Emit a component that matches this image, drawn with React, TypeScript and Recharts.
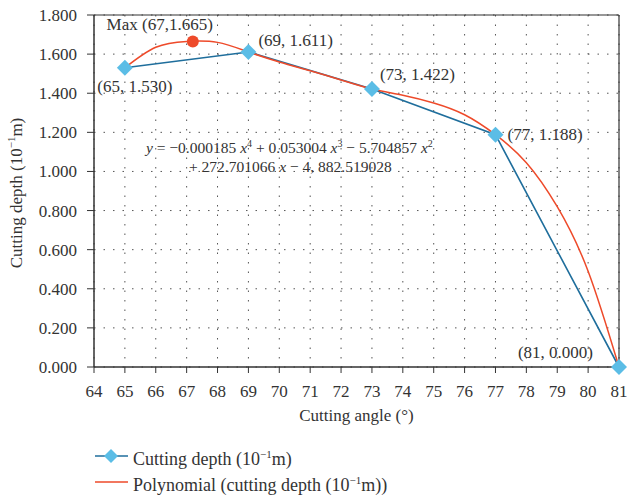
import { ComposedChart, Line, XAxis, YAxis, CartesianGrid, ReferenceDot, ReferenceLine, Legend, LabelList, Customized } from "recharts";

// measured points (cutting angle vs cutting depth)
const angles = [65, 69, 73, 77, 81];
const depths = [1.53, 1.611, 1.422, 1.188, 0.0];
const pointLabels = ["(65, 1.530)", "(69, 1.611)", "(73, 1.422)", "(77, 1.188)", "(81, 0.000)"];

// polynomial trend curve at each degree
const fitAngles = [65, 66, 67, 68, 69, 70, 71, 72, 73, 74, 75, 76, 77, 78, 79, 80, 81];
const fitDepths = [1.53, 1.635, 1.665, 1.66, 1.611, 1.56, 1.515, 1.468, 1.422, 1.39, 1.35, 1.29, 1.188, 1.045, 0.82, 0.49, 0.0];

const maxAngle = 67.2;
const maxDepth = 1.665;
const maxLabel = "Max (67,1.665)";

const xTicks = [64, 65, 66, 67, 68, 69, 70, 71, 72, 73, 74, 75, 76, 77, 78, 79, 80, 81];
const yTicks = [0, 0.2, 0.4, 0.6, 0.8, 1.0, 1.2, 1.4, 1.6, 1.8];

const seriesName = "Cutting depth";
const fitName = "Polynomial (cutting depth";

const measured = angles.map((a, i) => ({ x: a, y: depths[i], label: pointLabels[i] }));
const fitted = fitAngles.map((a, i) => ({ x: a, y: fitDepths[i] }));

const FONT = "'Liberation Serif', 'Times New Roman', serif";
const TEXT = "#333";
const BLUE = "#1f6e9c";
const LIGHT = "#5bbde6";
const RED = "#ee4a2a";

// label offsets per point
const labelPos = [
  { dx: 10, dy: 24, anchor: "middle" },
  { dx: 10, dy: -6, anchor: "start" },
  { dx: 8, dy: -9, anchor: "start" },
  { dx: 12, dy: 5, anchor: "start" },
  { dx: -26, dy: -9, anchor: "end" },
];

const Diamond = (props: any) => {
  const { cx, cy } = props;
  if (cx == null || cy == null) return null;
  const s = 8;
  return <polygon points={`${cx},${cy - s} ${cx + s},${cy} ${cx},${cy + s} ${cx - s},${cy}`} fill={LIGHT} />;
};

const PointLabel = (props: any) => {
  const { x, y, value, index } = props;
  const p = labelPos[index] || labelPos[0];
  return (
    <text x={x + p.dx} y={y + p.dy} textAnchor={p.anchor} fontFamily={FONT} fontSize={17} fill={TEXT}>
      {value}
    </text>
  );
};

const MaxLabel = (props: any) => {
  const vb = props.viewBox || {};
  const cx = vb.x + (vb.width || 0) / 2;
  const cy = vb.y + (vb.height || 0) / 2;
  return (
    <text x={cx + 20} y={cy - 11} textAnchor="end" fontFamily={FONT} fontSize={17} fill={TEXT}>
      {maxLabel}
    </text>
  );
};

const YTitle = (props: any) => {
  const vb = props.viewBox || { x: 0, y: 0, height: 0 };
  const x = 22;
  const y = vb.y + vb.height / 2 + 2;
  return (
    <text x={x} y={y} transform={`rotate(-90 ${x} ${y})`} textAnchor="middle" fontFamily={FONT} fontSize={17} fill={TEXT}>
      {seriesName} (10<tspan fontSize={11} dy={-7}>−1</tspan><tspan dy={7}>m)</tspan>
    </text>
  );
};

const XTitle = (props: any) => {
  const vb = props.viewBox || { x: 0, y: 0, width: 0 };
  return (
    <text x={vb.x + vb.width / 2} y={421} textAnchor="middle" fontFamily={FONT} fontSize={17} fill={TEXT}>
      Cutting angle (°)
    </text>
  );
};

const Equation = () => (
  <g fontFamily={FONT} fontSize={15.5} fill={TEXT}>
    <text x={146} y={153}>
      <tspan fontStyle="italic">y</tspan> = −0.000185 <tspan fontStyle="italic">x</tspan>
      <tspan fontSize={10} dy={-6}>4</tspan>
      <tspan dy={6}> + 0.053004 </tspan><tspan fontStyle="italic">x</tspan>
      <tspan fontSize={10} dy={-6}>3</tspan>
      <tspan dy={6}> − 5.704857 </tspan><tspan fontStyle="italic">x</tspan>
      <tspan fontSize={10} dy={-6}>2</tspan>
    </text>
    <text x={189} y={172}>
      + 272.701066 <tspan fontStyle="italic">x</tspan> − 4, 882.519028
    </text>
  </g>
);

const LegendBox = () => (
  <div style={{ fontFamily: FONT, fontSize: 18, color: TEXT, lineHeight: "26px" }}>
    <div style={{ display: "flex", alignItems: "center", height: 26 }}>
      <svg width={38} height={20} style={{ marginRight: 0 }}>
        <line x1={0} y1={10} x2={33} y2={10} stroke={BLUE} strokeWidth={1.5} />
        <polygon points="16,3 23,10 16,17 9,10" fill={LIGHT} />
      </svg>
      <span>
        {seriesName} (10<sup style={{ fontSize: 11 }}>−1</sup>m)
      </span>
    </div>
    <div style={{ display: "flex", alignItems: "center", height: 26 }}>
      <svg width={38} height={20}>
        <line x1={0} y1={10} x2={33} y2={10} stroke={RED} strokeWidth={1.5} />
      </svg>
      <span>
        {fitName} (10<sup style={{ fontSize: 11 }}>−1</sup>m))
      </span>
    </div>
  </div>
);

export default function App() {
  return (
    <div style={{ position: "absolute", left: 0, top: 0, width: 627, height: 496, background: "#fff" }}>
      <ComposedChart width={627} height={496} margin={{ top: 15, right: 8, left: 0, bottom: 47 }}>
        <CartesianGrid strokeDasharray="1.5 8" stroke="#555" />
        <XAxis
          dataKey="x"
          type="number"
          domain={[64, 81]}
          ticks={xTicks}
          interval={0}
          allowDuplicatedCategory={false}
          height={30}
          tickSize={6}
          tickMargin={12}
          axisLine={{ stroke: "#333", strokeWidth: 1.5 }}
          tickLine={{ stroke: "#333" }}
          tick={{ fill: TEXT, fontSize: 17, fontFamily: FONT }}
          label={<XTitle />}
        />
        <YAxis
          type="number"
          domain={[0, 1.8]}
          ticks={yTicks}
          interval={0}
          width={94}
          tickSize={7}
          tickMargin={10}
          tickFormatter={(v: number) => v.toFixed(3)}
          axisLine={{ stroke: "#333", strokeWidth: 1.5 }}
          tickLine={{ stroke: "#333" }}
          tick={{ fill: TEXT, fontSize: 17, fontFamily: FONT }}
          label={<YTitle />}
        />
        <ReferenceLine y={1.8} stroke="#333" strokeWidth={1.2} />
        <ReferenceLine x={81} stroke="#333" strokeWidth={1.2} />
        <Line
          data={measured}
          dataKey="y"
          name={seriesName}
          stroke={BLUE}
          strokeWidth={1.6}
          type="linear"
          dot={<Diamond />}
          activeDot={false}
          isAnimationActive={false}
        >
          <LabelList dataKey="label" content={<PointLabel />} />
        </Line>
        <Line
          data={fitted}
          dataKey="y"
          name={fitName}
          stroke={RED}
          strokeWidth={1.5}
          type="natural"
          dot={false}
          activeDot={false}
          isAnimationActive={false}
        />
        <ReferenceDot x={maxAngle} y={maxDepth} r={6} fill={RED} stroke="none" label={<MaxLabel />} />
        <Customized component={<Equation />} />
        <Legend
          content={<LegendBox />}
          wrapperStyle={{ position: "absolute", left: 95, top: 443, width: 520, height: 52 }}
        />
      </ComposedChart>
    </div>
  );
}
